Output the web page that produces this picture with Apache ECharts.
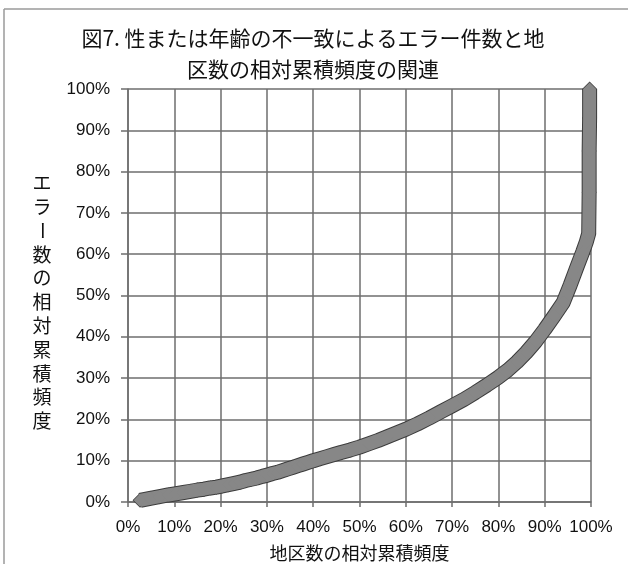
<!DOCTYPE html>
<html>
<head>
<meta charset="utf-8">
<script src="https://cdn.jsdelivr.net/npm/echarts@6/dist/echarts.min.js"></script>
<style>
  html, body { margin: 0; padding: 0; background: #ffffff; }
  #chart { width: 628px; height: 564px; }
</style>
</head>
<body>
<div id="chart"></div>
<script>
// Titles and axis names
const titleLines = ['図7. 性または年齢の不一致によるエラー件数と地', '区数の相対累積頻度の関連'];
const xAxisName = '地区数の相対累積頻度';
const yAxisName = 'エラー数の相対累積頻度';

// Tick values (percent)
const xTicks = [0, 10, 20, 30, 40, 50, 60, 70, 80, 90, 100];
const yTicks = [0, 10, 20, 30, 40, 50, 60, 70, 80, 90, 100];

// Relative cumulative frequency of districts (%)
const districtCum = [
  2.6, 4.8, 6.8, 8.7, 10.4, 12.0, 13.5, 15.0, 16.4, 17.8,
  19.1, 20.4, 21.7, 23.0, 24.2, 25.4, 26.6, 27.8, 29.0, 30.1,
  31.2, 32.3, 33.4, 34.5, 35.6, 36.7, 37.8, 38.9, 40.0, 41.5,
  43.0, 44.5, 46.0, 48.0, 50.0, 52.0, 54.0, 56.0, 58.0, 60.0,
  62.5, 65.0, 67.5, 70.0, 72.5, 75.0, 77.5, 80.0, 82.0, 84.0,
  86.0, 88.0, 90.0, 92.0, 94.0, 95.5, 97.0, 98.2, 99.0, 99.5,
  99.6, 99.6, 99.7, 99.7
];

// Relative cumulative frequency of error counts (%)
const errorCum = [
  0.4, 0.9, 1.3, 1.7, 2.0, 2.3, 2.6, 2.9, 3.1, 3.4,
  3.6, 3.9, 4.2, 4.5, 4.8, 5.2, 5.5, 5.8, 6.2, 6.5,
  6.9, 7.2, 7.6, 8.0, 8.4, 8.8, 9.2, 9.6, 10.0, 10.5,
  11.0, 11.5, 12.0, 12.6, 13.3, 14.1, 14.9, 15.8, 16.7, 17.6,
  18.9, 20.3, 21.8, 23.3, 24.8, 26.5, 28.3, 30.2, 31.9, 33.9,
  36.2, 38.8, 41.8, 45.0, 48.3, 52.5, 57.0, 60.5, 63.0, 65.0,
  75.0, 85.0, 93.0, 100.0
];

const points = districtCum.map((x, i) => [x, errorCum[i]]);

const gridColor = '#6e6e6e';
const markDark = '#3c3c3c';
const markGray = '#878787';

// Vertical axis name, one glyph per row; the long-vowel mark turns upright
const yNameChars = Array.from(yAxisName);
const yNameTop = 183, yNameStep = 23.8, yNameX = 42;
const yNameGraphics = yNameChars.map((ch, i) => ({
  type: 'text',
  x: yNameX,
  y: yNameTop + i * yNameStep,
  rotation: ch === 'ー' ? -Math.PI / 2 : 0,
  style: {
    text: ch,
    fill: '#111',
    font: '19px "Noto Sans CJK JP"',
    align: 'center',
    verticalAlign: 'middle'
  }
}));

const chart = echarts.init(document.getElementById('chart'), null, { renderer: 'canvas' });

const lineSeries = (color, width, z) => ({
  type: 'line',
  data: points,
  z: z,
  showSymbol: false,
  symbol: 'none',
  silent: true,
  animation: false,
  lineStyle: { color: color, width: width, join: 'round', cap: 'butt' }
});
const dotSeries = (color, size, z) => ({
  type: 'scatter',
  data: points,
  z: z,
  symbol: 'diamond',
  symbolSize: size,
  silent: true,
  animation: false,
  itemStyle: { color: color, opacity: 1 }
});

chart.setOption({
  animation: false,
  backgroundColor: '#ffffff',
  title: {
    text: titleLines.join('\n'),
    left: 308,
    top: 18,
    textAlign: 'center',
    textStyle: {
      fontFamily: '"Noto Sans CJK JP"',
      fontSize: 21,
      fontWeight: 'normal',
      color: '#111',
      lineHeight: 31
    }
  },
  grid: { left: 128, right: 37, top: 89, bottom: 62, containLabel: false, outerBoundsMode: 'none' },
  xAxis: {
    type: 'value',
    min: xTicks[0],
    max: xTicks[xTicks.length - 1],
    interval: xTicks[1] - xTicks[0],
    name: xAxisName,
    nameLocation: 'middle',
    nameGap: 42,
    nameTextStyle: { fontFamily: '"Noto Sans CJK JP"', fontSize: 18, color: '#111' },
    axisLine: { show: true, onZero: false, lineStyle: { color: gridColor, width: 1.5 } },
    axisTick: { show: true, inside: false, length: 5, lineStyle: { color: gridColor, width: 1.5 } },
    axisLabel: {
      margin: 17,
      fontFamily: '"Liberation Sans", Arial',
      fontSize: 17,
      color: '#111',
      formatter: v => v + '%'
    },
    splitLine: { show: true, lineStyle: { color: gridColor, width: 1.5 } }
  },
  yAxis: {
    type: 'value',
    min: yTicks[0],
    max: yTicks[yTicks.length - 1],
    interval: yTicks[1] - yTicks[0],
    axisLine: { show: true, onZero: false, lineStyle: { color: gridColor, width: 1.5 } },
    axisTick: { show: true, inside: false, length: 7, lineStyle: { color: gridColor, width: 1.5 } },
    axisLabel: {
      margin: 18,
      fontFamily: '"Liberation Sans", Arial',
      fontSize: 17,
      color: '#111',
      formatter: v => v + '%'
    },
    splitLine: { show: true, lineStyle: { color: gridColor, width: 1.5 } }
  },
  graphic: [
    // outer frame of the chart area (left and top edges)
    { type: 'line', shape: { x1: 4, y1: 9, x2: 4, y2: 564 }, style: { stroke: '#9a9a9a', lineWidth: 1.5 } },
    { type: 'line', shape: { x1: 4, y1: 9, x2: 628, y2: 9 }, style: { stroke: '#9a9a9a', lineWidth: 1.5 } },
    { type: 'group', children: yNameGraphics }
  ],
  series: [
    lineSeries(markDark, 15, 2),
    dotSeries(markDark, 15, 3),
    lineSeries(markGray, 13, 4),
    dotSeries(markGray, 13, 5)
  ]
});
</script>
</body>
</html>
